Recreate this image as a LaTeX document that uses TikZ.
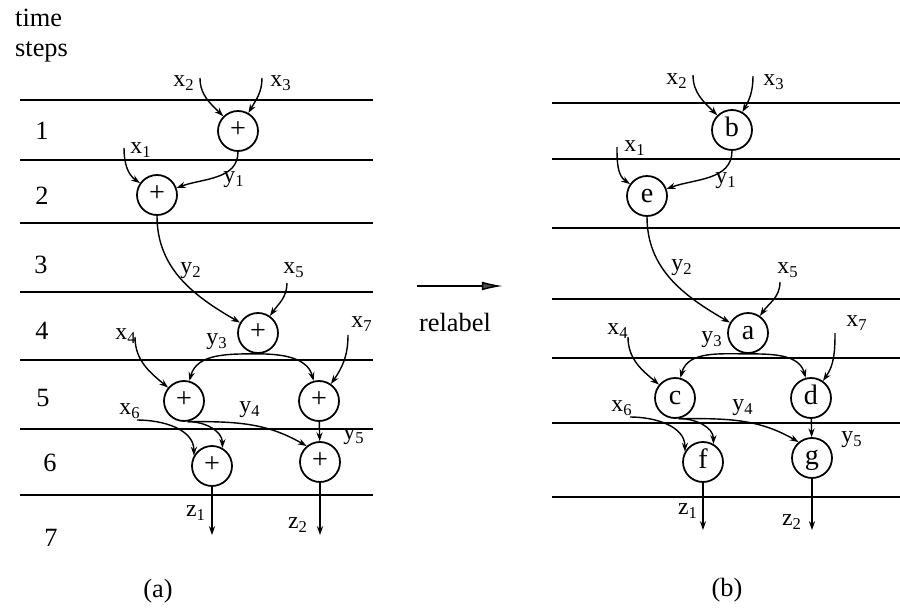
\documentclass[tikz,border=0pt]{standalone}
\usepackage{fontspec}
\setmainfont{Liberation Serif}
\usetikzlibrary{arrows.meta}

\begin{document}
\begin{tikzpicture}[x=0.02cm, y=-0.02cm, >={Stealth[length=5pt,width=3.5pt]}, every node/.style={font=\fontsize{15}{18}\selectfont}]
\tikzstyle{op}=[circle, draw, line width=1pt, minimum size=0.8cm, inner sep=0pt, text height=1.6ex, text depth=0.1ex, font=\fontsize{16}{18}\selectfont]
\tikzstyle{lab}=[inner sep=0pt, font=\fontsize{13.5}{15}\selectfont]
\tikzstyle{flow}=[->, line width=0.8pt]
\tikzstyle{stepline}=[line width=1pt]
\useasboundingbox (0,0) rectangle (900,608);

% time steps
\node[anchor=base west] (time) at (9,27) {time};
\node[anchor=base west] (steps) at (9,57) {steps};
\node (t1) at (42,131) {1};
\node (t2) at (42,196) {2};
\node (t3) at (41,265) {3};
\node (t4) at (42,331) {4};
\node (t5) at (43,398) {5};
\node (t6) at (50,463) {6};
\node (t7) at (51,538) {7};
\draw[stepline] (20,100) -- (373,100) (20,160) -- (373,160) (20,223) -- (373,223) (20,292) -- (373,292)
  (20,360) -- (373,360) (20,429) -- (373,429) (20,495) -- (373,495);
\draw[stepline] (552,103) -- (900,103) (552,159) -- (900,159) (552,228) -- (900,228) (552,299) -- (900,299)
  (552,358) -- (900,358) (552,423) -- (900,423) (552,497) -- (900,497);

% (a) before relabelling
\node[op] (Lb) at (238,131) {+};
\node[op] (Le) at (157,195) {+};
\node[op] (La) at (258,333) {+};
\node[op] (Lc) at (184,401) {+};
\node[op] (Ld) at (319,401) {+};
\node[op] (Lf) at (212,466) {+};
\node[op] (Lg) at (320,462) {+};
\coordinate (Lx2) at (200,78);
\coordinate (Lx3) at (262,78);
\coordinate (Lx1) at (124,148);
\coordinate (Lx5) at (287,283);
\coordinate (Lx4) at (135,337);
\coordinate (Lx7) at (348,335);
\coordinate (Lx6) at (137,420);
\coordinate (Lz1) at (212,535);
\coordinate (Lz2) at (320,535);
\draw[flow] (Lx2) to[out=-90,in=135] (Lb);
\draw[flow] (Lx3) to[out=-90,in=60] (Lb);
\draw[flow] (Lx1) to[out=-90,in=145] (Le);
\draw[flow] (Lb) to[out=-90,in=20] (Le);
\draw[flow] (Le) to[out=-90,in=150] (La);
\draw[flow] (Lx5) to[out=-90,in=55] (La);
\draw[flow] (La.south) to[out=180,in=75] (Lc);
\draw[flow] (La.south) to[out=0,in=105] (Ld);
\draw[flow] (Lx4) to[out=-90,in=140] (Lc);
\draw[flow] (Lx7) to[out=-90,in=55] (Ld);
\draw[flow] (Lx6) to[out=0,in=90] (Lf.150);
\draw[flow] (Lc.-80) to[out=0,in=90] (Lf.60);
\draw[flow] (Lc.-80) to[out=0,in=150] (Lg.130);
\draw[flow] (Ld) -- (Lg);
\draw[flow] (Lf) -- (Lz1);
\draw[flow] (Lg) -- (Lz2);
\node[lab] (lx2) at (184,83) {x\textsubscript{2}};
\node[lab] (lx3) at (281,83) {x\textsubscript{3}};
\node[lab] (lx1) at (141,150) {x\textsubscript{1}};
\node[lab] (ly1) at (234,180) {y\textsubscript{1}};
\node[lab] (ly2) at (191,271) {y\textsubscript{2}};
\node[lab] (lx5) at (294,270) {x\textsubscript{5}};
\node[lab] (ly3) at (217,342) {y\textsubscript{3}};
\node[lab] (lx4) at (126,336) {x\textsubscript{4}};
\node[lab] (lx7) at (362,324) {x\textsubscript{7}};
\node[lab] (lx6) at (130,411) {x\textsubscript{6}};
\node[lab] (ly4) at (250,410) {y\textsubscript{4}};
\node[lab] (ly5) at (354,437) {y\textsubscript{5}};
\node[lab] (lz1) at (196,513) {z\textsubscript{1}};
\node[lab] (lz2) at (298,525) {z\textsubscript{2}};
\node (capa) at (158,591) {(a)};

% relabel arrow
\coordinate (rs) at (417,286);
\coordinate (re) at (503,286);
\draw[-{Latex[length=12pt,width=5pt,fill=black!70]}, line width=0.8pt] (rs) -- (re);
\node (relabel) at (455,322) {relabel};

% (b) after relabelling
\node[op] (Rb) at (732,130) {b};
\node[op] (Re) at (647,196) {e};
\node[op] (Ra) at (748,333) {a};
\node[op] (Rc) at (675,398) {c};
\node[op] (Rd) at (811,398) {d};
\node[op] (Rf) at (703,462) {f};
\node[op] (Rg) at (812,458) {g};
\coordinate (Rx2) at (693,75);
\coordinate (Rx3) at (753,76);
\coordinate (Rx1) at (617,147);
\coordinate (Rx5) at (780,282);
\coordinate (Rx4) at (628,337);
\coordinate (Rx7) at (835,333);
\coordinate (Rx6) at (630,417);
\coordinate (Rz1) at (703,530);
\coordinate (Rz2) at (812,530);
\draw[flow] (Rx2) to[out=-90,in=135] (Rb);
\draw[flow] (Rx3) to[out=-90,in=60] (Rb);
\draw[flow] (Rx1) to[out=-90,in=145] (Re);
\draw[flow] (Rb) to[out=-90,in=20] (Re);
\draw[flow] (Re) to[out=-90,in=150] (Ra);
\draw[flow] (Rx5) to[out=-90,in=55] (Ra);
\draw[flow] (Ra.south) to[out=180,in=75] (Rc);
\draw[flow] (Ra.south) to[out=0,in=105] (Rd);
\draw[flow] (Rx4) to[out=-90,in=140] (Rc);
\draw[flow] (Rx7) to[out=-90,in=55] (Rd);
\draw[flow] (Rx6) to[out=0,in=90] (Rf.150);
\draw[flow] (Rc.-80) to[out=0,in=90] (Rf.60);
\draw[flow] (Rc.-80) to[out=0,in=150] (Rg.130);
\draw[flow] (Rd) -- (Rg);
\draw[flow] (Rf) -- (Rz1);
\draw[flow] (Rg) -- (Rz2);
\node[lab] (rx2) at (677,81) {x\textsubscript{2}};
\node[lab] (rx3) at (774,82) {x\textsubscript{3}};
\node[lab] (rx1) at (635,148) {x\textsubscript{1}};
\node[lab] (ry1) at (726,181) {y\textsubscript{1}};
\node[lab] (ry2) at (682,268) {y\textsubscript{2}};
\node[lab] (rx5) at (788,270) {x\textsubscript{5}};
\node[lab] (ry3) at (712,340) {y\textsubscript{3}};
\node[lab] (rx4) at (618,331) {x\textsubscript{4}};
\node[lab] (rx7) at (857,323) {x\textsubscript{7}};
\node[lab] (rx6) at (622,408) {x\textsubscript{6}};
\node[lab] (ry4) at (743,408) {y\textsubscript{4}};
\node[lab] (ry5) at (852,440) {y\textsubscript{5}};
\node[lab] (rz1) at (688,511) {z\textsubscript{1}};
\node[lab] (rz2) at (792,522) {z\textsubscript{2}};
\node (capb) at (727,590) {(b)};
\end{tikzpicture}
\end{document}
